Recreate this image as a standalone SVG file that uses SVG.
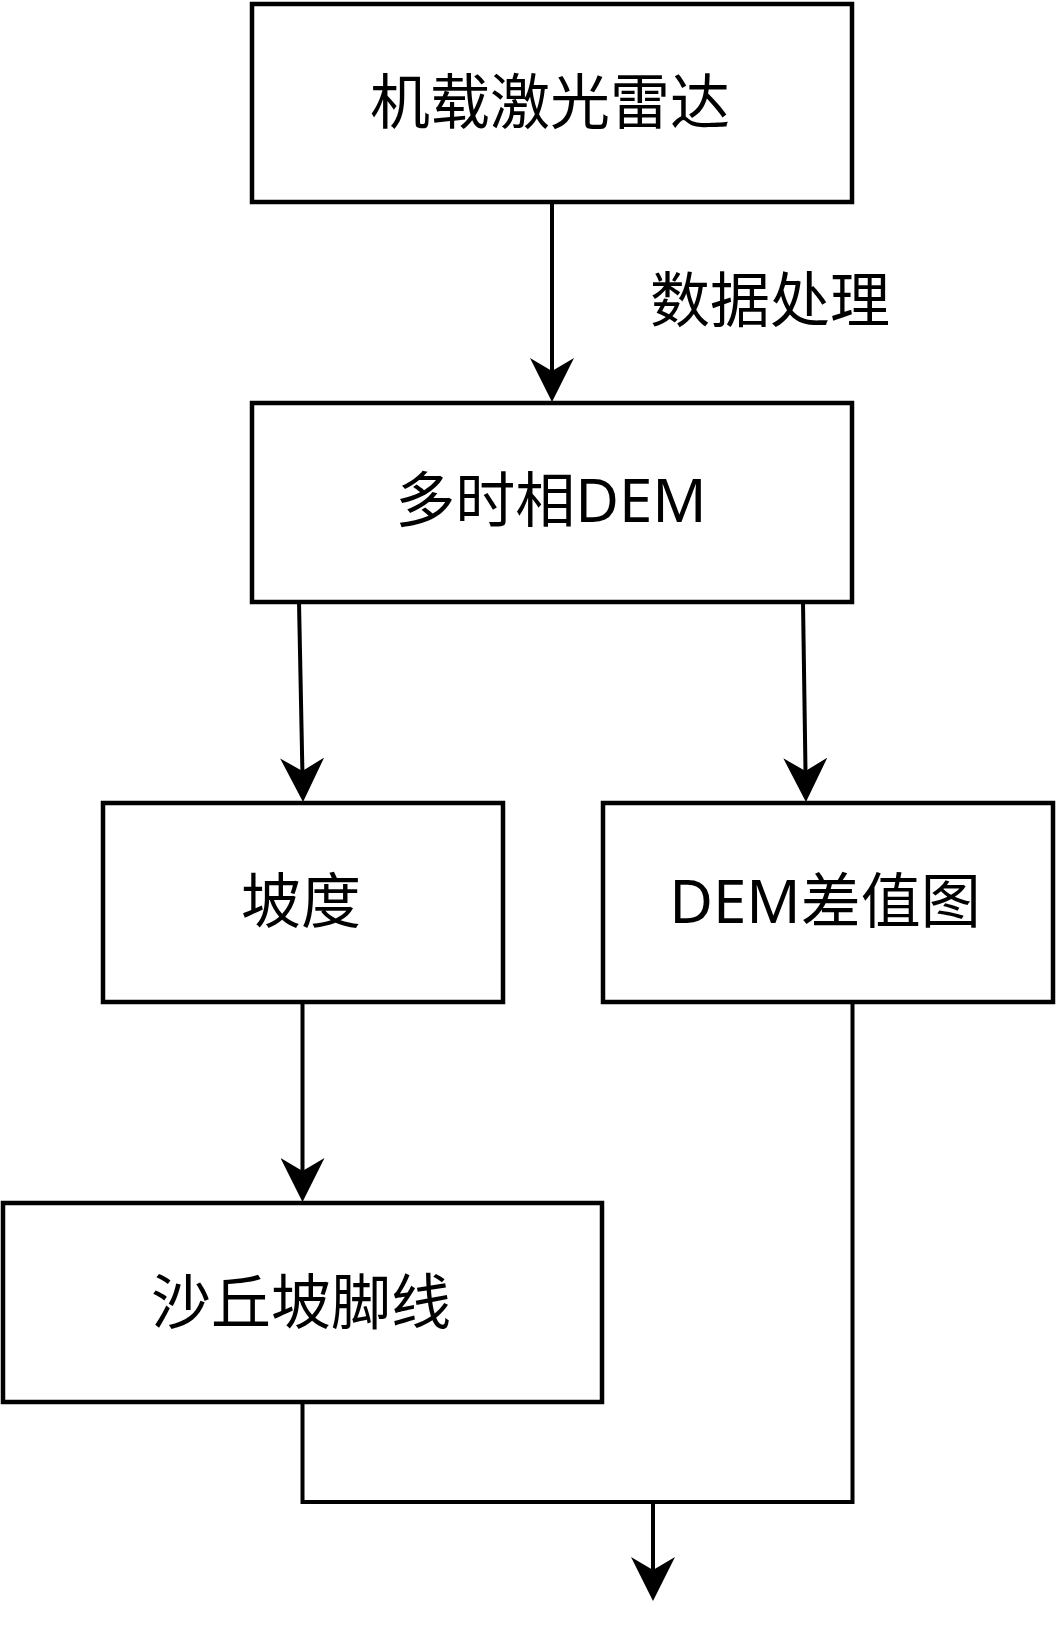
<svg xmlns="http://www.w3.org/2000/svg" width="1060" height="1645" viewBox="0 0 1060 1645">
  <style>
    .box { fill: #ffffff; stroke: #000000; stroke-width: 4.5; }
    .label { font-family: "Noto Sans", "Noto Sans CJK SC", sans-serif; font-size: 60px; fill: #000000; text-anchor: middle; dominant-baseline: central; }
    .edge { fill: none; stroke: #000000; stroke-width: 4; }
  </style>
  <defs>
    <marker id="arrow" markerUnits="userSpaceOnUse" viewBox="0 0 44 44" markerWidth="44" markerHeight="44" refX="13" refY="22" orient="auto">
      <path d="M0,0 L44,22 L0,44 L13,22 Z" fill="#000000"/>
    </marker>
  </defs>
  <rect width="1060" height="1645" fill="#ffffff"/>

  <g id="connectors">
    <line class="edge" x1="552" y1="202" x2="552" y2="371" marker-end="url(#arrow)"/>
    <line class="edge" x1="299" y1="602" x2="302.4" y2="771" marker-end="url(#arrow)"/>
    <line class="edge" x1="803" y1="602" x2="805.5" y2="771" marker-end="url(#arrow)"/>
    <line class="edge" x1="302.5" y1="1003" x2="302.5" y2="1171" marker-end="url(#arrow)"/>
    <polyline class="edge" points="302.5,1402 302.5,1502 852.5,1502 852.5,1002"/>
    <line class="edge" x1="653" y1="1502" x2="653" y2="1570" marker-end="url(#arrow)"/>
    <text class="label" x="770" y="299">数据处理</text>
  </g>

  <g id="node-lidar">
    <rect class="box" x="252" y="4" width="600" height="198"/>
    <text class="label" x="550" y="101">机载激光雷达</text>
  </g>

  <g id="node-dem">
    <rect class="box" x="252" y="403" width="600" height="199"/>
    <text class="label" x="551" y="499">多时相DEM</text>
  </g>

  <g id="node-slope">
    <rect class="box" x="103" y="803" width="400" height="199"/>
    <text class="label" x="301" y="900">坡度</text>
  </g>

  <g id="node-diff">
    <rect class="box" x="603" y="803" width="450" height="199"/>
    <text class="label" x="825" y="900">DEM差值图</text>
  </g>

  <g id="node-dunefoot">
    <rect class="box" x="3" y="1203" width="599" height="199"/>
    <text class="label" x="301" y="1301">沙丘坡脚线</text>
  </g>
</svg>
